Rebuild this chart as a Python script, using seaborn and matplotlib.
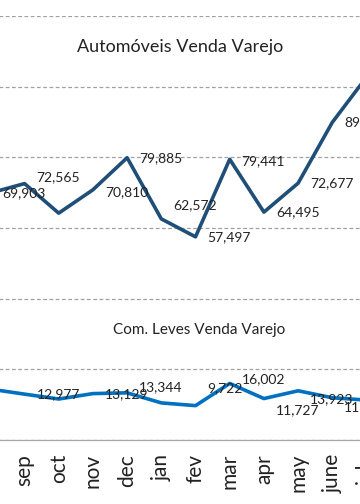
import matplotlib
matplotlib.use("Agg")
import matplotlib.pyplot as plt
import seaborn as sns
import pandas as pd

# data
months = ["ago", "sep", "oct", "nov", "dec", "jan", "fev", "mar", "apr", "may", "june", "july"]
automoveis = [69903, 72565, 64200, 70810, 79885, 62572, 57497, 79441, 64495, 72677, 89900, 102700]
com_leves = [14400, 12977, 11600, 13129, 13344, 10500, 9722, 16002, 11727, 13923, 11950, 11300]
# points that carry a data label in the original chart
auto_labeled = [True, True, False, True, True, True, True, True, True, True, True, False]
leves_labeled = [False, True, False, True, True, False, True, True, True, True, True, False]

# label nudges (pixels, up = positive) to mimic Excel placement
auto_dy = [0, 6, 0, -2, 0, 14, 0, -2, 0, 0, 0, 0]
leves_dy = [0, 0, 0, -1, 6, 0, 17, 4, -12, -8, -9, 0]

df = pd.DataFrame({"idx": range(len(months)), "month": months,
                   "Automoveis": automoveis, "ComLeves": com_leves})

sns.set_style("white")
plt.rcParams["font.family"] = ["Lato", "DejaVu Sans"]

fig = plt.figure(figsize=(3.6, 5.04), dpi=100)
# the picture is a crop of a wider chart, so the axes run past the figure edges
ax = fig.add_axes([-0.0744, 0.127, 1.14, 0.8413])

sns.lineplot(x="idx", y="Automoveis", data=df, ax=ax, color="#1F4E79", lw=2.6)
sns.lineplot(x="idx", y="ComLeves", data=df, ax=ax, color="#0070C0", lw=2.6)

for i, row in df.iterrows():
    if auto_labeled[i]:
        ax.annotate(f"{row['Automoveis']:,}", (row["idx"], row["Automoveis"]),
                    xytext=(12, auto_dy[i]), textcoords="offset pixels",
                    ha="left", va="center", fontsize=10, color="#222222",
                    annotation_clip=False)
    if leves_labeled[i]:
        ax.annotate(f"{row['ComLeves']:,}", (row["idx"], row["ComLeves"]),
                    xytext=(12, leves_dy[i]), textcoords="offset pixels",
                    ha="left", va="center", fontsize=10, color="#222222",
                    annotation_clip=False)

ax.set_xlim(-0.5, len(months) - 0.5)
ax.set_ylim(0, 120000)
ax.set_yticks(range(0, 120001, 20000))
ax.yaxis.grid(True, color="#A0A0A0", linestyle=(0, (3, 2)), lw=0.9)
ax.xaxis.grid(False)
ax.tick_params(axis="y", left=False, labelleft=False)

ax.set_xticks(range(len(months)))
ax.set_xticklabels(months, rotation=90, fontsize=15, color="#222222")
ax.set_xticks([i - 0.5 for i in range(len(months) + 1)], minor=True)
ax.tick_params(axis="x", which="major", length=0, pad=10)
ax.tick_params(axis="x", which="minor", length=4.5, width=0.9, color="#A6A6A6")
ax.set_xlabel("")
ax.set_ylabel("")

for side in ["top", "left", "right"]:
    ax.spines[side].set_visible(False)
ax.spines["bottom"].set_color("#A6A6A6")
ax.spines["bottom"].set_linewidth(0.9)

fig.text(0.5, 1 - 47 / 504, "Automóveis Venda Varejo", ha="center", va="center",
         fontsize=13, color="#222222")
fig.text(199 / 360, 1 - 330 / 504, "Com. Leves Venda Varejo", ha="center", va="center",
         fontsize=11, color="#222222")

fig.savefig("out.png", dpi=100)
